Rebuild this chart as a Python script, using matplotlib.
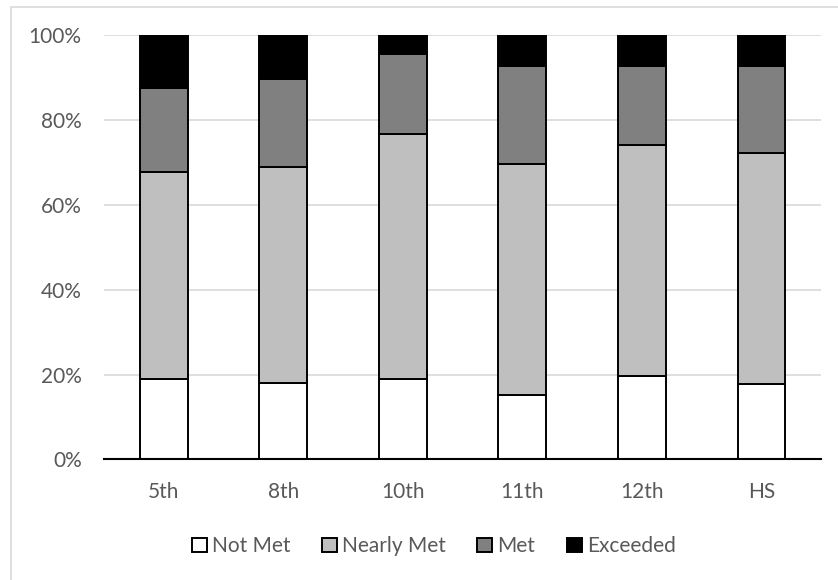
import matplotlib.pyplot as plt
import matplotlib.patches as mpatches
import numpy as np

# ------------------------------------
# Datos
# ------------------------------------
grados = ['5th', '8th', '10th', '11th', '12th', 'HS']
not_met = [18.9, 17.9, 19.0, 15.1, 19.7, 17.8]
nearly_met = [48.9, 51.0, 57.7, 54.5, 54.4, 54.4]
met = [19.9, 20.7, 19.0, 23.1, 18.7, 20.6]
exceeded = [12.3, 10.4, 4.3, 7.3, 7.2, 7.2]

series = ['Not Met', 'Nearly Met', 'Met', 'Exceeded']
colores = ['#FFFFFF', '#BFBFBF', '#808080', '#000000']

plt.rcParams['font.family'] = ['Lato', 'DejaVu Sans']

fig = plt.figure(figsize=(8.38, 5.80), dpi=100)
ax = fig.add_axes([0.124, 0.208, 0.856, 0.731])

# borde del area del grafico
fig.patches.append(mpatches.Rectangle((11 / 838, -0.01), 1.0, 1 - 7 / 580 + 0.01,
                                      transform=fig.transFigure, fill=False,
                                      edgecolor='#D9D9D9', linewidth=1.2))

x = np.arange(len(grados))
fondo = np.zeros(len(grados))
for nombre, valores, color in zip(series, [not_met, nearly_met, met, exceeded], colores):
    ax.bar(x, valores, bottom=fondo, width=0.4, color=color,
           edgecolor='black', linewidth=1.4, label=nombre, zorder=3)
    fondo = fondo + np.array(valores)

ax.set_xlim(-0.5, len(grados) - 0.5)
ax.set_ylim(0, 100)
ax.set_yticks(np.arange(0, 101, 20))
ax.set_yticklabels([f'{v}%' for v in range(0, 101, 20)])
ax.set_xticks(x)
ax.set_xticklabels(grados)
ax.tick_params(axis='both', length=0, labelsize=15, colors='#595959')
ax.tick_params(axis='y', pad=16)
ax.tick_params(axis='x', pad=16)

ax.yaxis.grid(True, color='#D9D9D9', linewidth=1.2, zorder=0)
ax.set_axisbelow(True)
for lado in ['top', 'right', 'left']:
    ax.spines[lado].set_visible(False)
ax.spines['bottom'].set_color('black')
ax.spines['bottom'].set_linewidth(1.5)
ax.spines['bottom'].set_zorder(4)

leg = ax.legend(loc='center', bbox_to_anchor=(0.46, -0.205), ncol=4, frameon=False,
                fontsize=15, handlelength=0.72, handleheight=0.72, handletextpad=0.25,
                columnspacing=1.5)
for t in leg.get_texts():
    t.set_color('#595959')

plt.savefig('out.png', dpi=100)
